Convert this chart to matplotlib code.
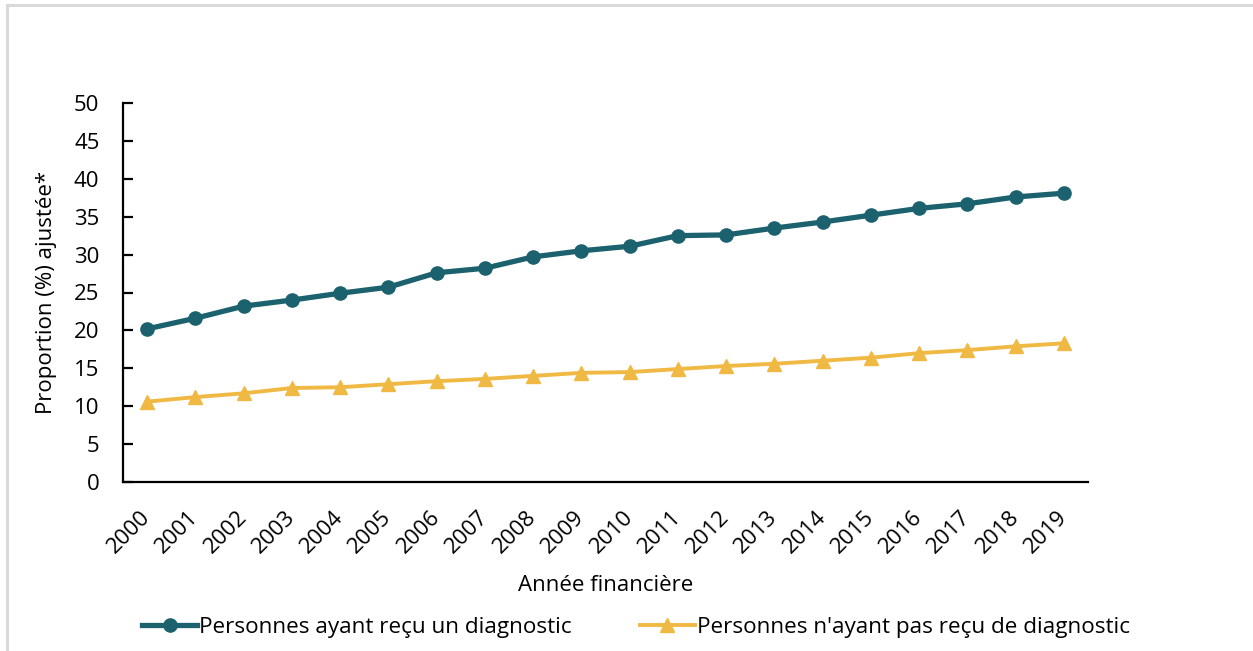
import matplotlib
matplotlib.use("Agg")
import matplotlib.pyplot as plt
from matplotlib.patches import Rectangle

plt.rcParams['font.family'] = ['Open Sans', 'DejaVu Sans']

years = [str(y) for y in range(2000, 2020)]
diag = [20.2, 21.6, 23.2, 24.0, 24.9, 25.7, 27.6, 28.2, 29.7, 30.5,
        31.1, 32.5, 32.6, 33.5, 34.3, 35.2, 36.1, 36.7, 37.6, 38.1]
no_diag = [10.6, 11.2, 11.7, 12.4, 12.5, 12.9, 13.3, 13.6, 14.0, 14.4,
           14.5, 14.9, 15.3, 15.6, 16.0, 16.4, 17.0, 17.4, 17.9, 18.3]
labels = ["Personnes ayant reçu un diagnostic",
          "Personnes n'ayant pas reçu de diagnostic"]

teal = '#1B616E'
yellow = '#F0B944'
fs = 16

fig = plt.figure(figsize=(12.53, 6.51), dpi=100)
fig.patches.append(Rectangle((7/1253, -0.1), 1.2, 1 - 5/651 + 0.1,
                             transform=fig.transFigure, fill=False,
                             edgecolor='#d9d9d9', linewidth=2.2))
ax = fig.add_axes([123/1253, 1 - 482/651, (1088-123)/1253, (482-103)/651])

x = list(range(len(years)))
ax.plot(x, diag, color=teal, lw=3.8, marker='o', ms=9.5, label=labels[0])
ax.plot(x, no_diag, color=yellow, lw=2.8, marker='^', ms=9.5, label=labels[1])

ax.set_xlim(-0.5, len(years) - 0.5)
ax.set_ylim(0, 50)
ax.set_yticks(range(0, 51, 5))
ax.set_xticks(x)
ax.set_xticklabels(years, rotation=45, ha='right', va='center',
                   rotation_mode='anchor')

for s in ['top', 'right']:
    ax.spines[s].set_visible(False)
for s in ['left', 'bottom']:
    ax.spines[s].set_linewidth(1.6)

ax.tick_params(axis='y', direction='in', length=7, width=1.6, labelsize=fs, pad=17)
ax.tick_params(axis='x', length=0, labelsize=fs, pad=23)

ax.set_xlabel("Année financière", fontsize=fs, labelpad=13)
ax.set_ylabel("Proportion (%) ajustée*", fontsize=fs, labelpad=12)

fig.legend(loc='center', bbox_to_anchor=(636/1253, 1 - 627/651), ncol=2,
           frameon=False, fontsize=16.2, handlelength=2.45, handletextpad=0.1,
           columnspacing=3.0)

fig.savefig('out.png', dpi=100)
